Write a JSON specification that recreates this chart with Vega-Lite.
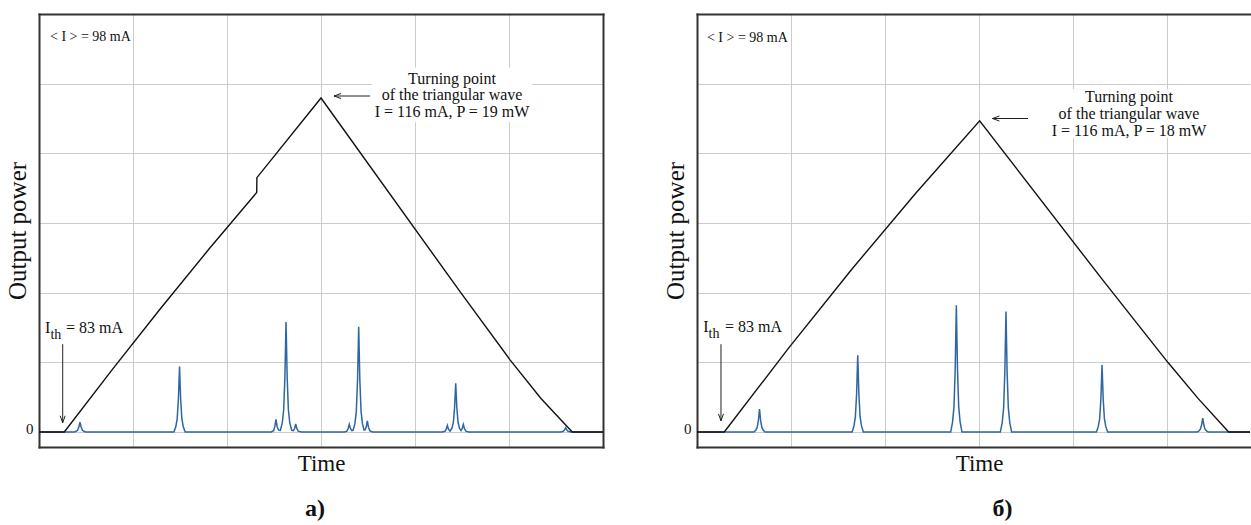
{
  "$schema": "https://vega.github.io/schema/vega-lite/v6.json",
  "background": "white",
  "padding": {"left": 5, "top": 14, "right": 0, "bottom": 0},
  "autosize": {"type": "pad"},
  "spacing": 57,
  "config": {
    "view": {"stroke": null},
    "font": "'Liberation Serif', 'Times New Roman', Times, serif",
    "axis": {
      "domainColor": "#333333", "domainWidth": 2, "domainCap": "square",
      "gridColor": "#cccccc", "gridWidth": 1,
      "ticks": false, "tickSize": 0,
      "labelFont": "'Liberation Serif', 'Times New Roman', Times, serif", "labelFontSize": 15, "labelColor": "#111111",
      "titleFont": "'Liberation Serif', 'Times New Roman', Times, serif", "titleFontSize": 23, "titleFontWeight": "normal", "titleColor": "#111111"
    },
    "text": {"font": "'Liberation Serif', 'Times New Roman', Times, serif"}
  },
  "datasets": {
    "blackA": [
      {"x": 0, "y": 0}, {"x": 0.269, "y": 0}, {"x": 0.781, "y": 0.9}, {"x": 1.293, "y": 1.773}, {"x": 1.804, "y": 2.619},
      {"x": 2.316, "y": 3.437}, {"x": 2.318, "y": 3.651}, {"x": 3.0, "y": 4.794},
      {"x": 4.479, "y": 2.014}, {"x": 5.011, "y": 1.036}, {"x": 5.34, "y": 0.481}, {"x": 5.673, "y": 0}, {"x": 6, "y": 0}
    ],
    "blackB": [
      {"x": 0, "y": 0}, {"x": 0.29, "y": 0}, {"x": 0.97, "y": 1.196}, {"x": 1.649, "y": 2.34}, {"x": 2.329, "y": 3.431}, {"x": 3.007, "y": 4.466},
      {"x": 4.309, "y": 2.194}, {"x": 5.011, "y": 0.997}, {"x": 5.33, "y": 0.483}, {"x": 5.656, "y": 0}, {"x": 5.883, "y": 0}
    ],
    "blueA": [
      {"x": 0, "y": 0},
      {"x": 0.376, "y": 0}, {"x": 0.396, "y": 0.011}, {"x": 0.411, "y": 0.028}, {"x": 0.424, "y": 0.07}, {"x": 0.436, "y": 0.14}, {"x": 0.448, "y": 0.07}, {"x": 0.461, "y": 0.028}, {"x": 0.476, "y": 0.011}, {"x": 0.496, "y": 0},
      {"x": 1.435, "y": 0}, {"x": 1.455, "y": 0.075}, {"x": 1.470, "y": 0.188}, {"x": 1.483, "y": 0.47}, {"x": 1.495, "y": 0.94}, {"x": 1.507, "y": 0.47}, {"x": 1.520, "y": 0.188}, {"x": 1.535, "y": 0.075}, {"x": 1.555, "y": 0},
      {"x": 2.47, "y": 0}, {"x": 2.496, "y": 0.02}, {"x": 2.509, "y": 0.08}, {"x": 2.521, "y": 0.18}, {"x": 2.533, "y": 0.08}, {"x": 2.548, "y": 0.03}, {"x": 2.568, "y": 0.025}, {"x": 2.588, "y": 0.13}, {"x": 2.603, "y": 0.32}, {"x": 2.616, "y": 0.79}, {"x": 2.628, "y": 1.58}, {"x": 2.640, "y": 0.79}, {"x": 2.653, "y": 0.32}, {"x": 2.668, "y": 0.13}, {"x": 2.688, "y": 0.025}, {"x": 2.706, "y": 0.02}, {"x": 2.719, "y": 0.05}, {"x": 2.731, "y": 0.115}, {"x": 2.743, "y": 0.05}, {"x": 2.758, "y": 0.012}, {"x": 2.79, "y": 0},
      {"x": 3.25, "y": 0}, {"x": 3.276, "y": 0.012}, {"x": 3.289, "y": 0.05}, {"x": 3.301, "y": 0.11}, {"x": 3.313, "y": 0.05}, {"x": 3.328, "y": 0.02}, {"x": 3.341, "y": 0.025}, {"x": 3.361, "y": 0.12}, {"x": 3.376, "y": 0.30}, {"x": 3.389, "y": 0.755}, {"x": 3.401, "y": 1.51}, {"x": 3.413, "y": 0.755}, {"x": 3.426, "y": 0.30}, {"x": 3.441, "y": 0.12}, {"x": 3.458, "y": 0.03}, {"x": 3.468, "y": 0.03}, {"x": 3.481, "y": 0.07}, {"x": 3.493, "y": 0.16}, {"x": 3.505, "y": 0.07}, {"x": 3.52, "y": 0.017}, {"x": 3.55, "y": 0},
      {"x": 4.29, "y": 0}, {"x": 4.319, "y": 0.01}, {"x": 4.332, "y": 0.04}, {"x": 4.344, "y": 0.094}, {"x": 4.356, "y": 0.04}, {"x": 4.373, "y": 0.012}, {"x": 4.393, "y": 0.056}, {"x": 4.408, "y": 0.14}, {"x": 4.421, "y": 0.35}, {"x": 4.433, "y": 0.70}, {"x": 4.445, "y": 0.35}, {"x": 4.458, "y": 0.14}, {"x": 4.473, "y": 0.056}, {"x": 4.49, "y": 0.02}, {"x": 4.502, "y": 0.05}, {"x": 4.514, "y": 0.11}, {"x": 4.526, "y": 0.05}, {"x": 4.541, "y": 0.012}, {"x": 4.57, "y": 0},
      {"x": 5.55, "y": 0}, {"x": 5.578, "y": 0.01}, {"x": 5.591, "y": 0.03}, {"x": 5.603, "y": 0.06}, {"x": 5.615, "y": 0.03}, {"x": 5.628, "y": 0.01}, {"x": 5.66, "y": 0},
      {"x": 6, "y": 0}
    ],
    "blueB": [
      {"x": 0, "y": 0},
      {"x": 0.605, "y": 0}, {"x": 0.625, "y": 0.026}, {"x": 0.640, "y": 0.066}, {"x": 0.653, "y": 0.165}, {"x": 0.665, "y": 0.33}, {"x": 0.677, "y": 0.165}, {"x": 0.690, "y": 0.066}, {"x": 0.705, "y": 0.026}, {"x": 0.725, "y": 0},
      {"x": 1.65, "y": 0}, {"x": 1.67, "y": 0.088}, {"x": 1.685, "y": 0.22}, {"x": 1.698, "y": 0.55}, {"x": 1.71, "y": 1.10}, {"x": 1.722, "y": 0.55}, {"x": 1.735, "y": 0.22}, {"x": 1.75, "y": 0.088}, {"x": 1.77, "y": 0},
      {"x": 2.699, "y": 0}, {"x": 2.719, "y": 0.146}, {"x": 2.734, "y": 0.364}, {"x": 2.747, "y": 0.91}, {"x": 2.759, "y": 1.82}, {"x": 2.771, "y": 0.91}, {"x": 2.784, "y": 0.364}, {"x": 2.799, "y": 0.146}, {"x": 2.819, "y": 0},
      {"x": 3.227, "y": 0}, {"x": 3.247, "y": 0.138}, {"x": 3.262, "y": 0.346}, {"x": 3.275, "y": 0.865}, {"x": 3.287, "y": 1.73}, {"x": 3.299, "y": 0.865}, {"x": 3.312, "y": 0.346}, {"x": 3.327, "y": 0.138}, {"x": 3.347, "y": 0},
      {"x": 4.249, "y": 0}, {"x": 4.269, "y": 0.077}, {"x": 4.284, "y": 0.192}, {"x": 4.297, "y": 0.48}, {"x": 4.309, "y": 0.96}, {"x": 4.321, "y": 0.48}, {"x": 4.334, "y": 0.192}, {"x": 4.349, "y": 0.077}, {"x": 4.369, "y": 0},
      {"x": 5.32, "y": 0}, {"x": 5.34, "y": 0.016}, {"x": 5.355, "y": 0.04}, {"x": 5.368, "y": 0.1}, {"x": 5.38, "y": 0.2}, {"x": 5.392, "y": 0.1}, {"x": 5.405, "y": 0.04}, {"x": 5.42, "y": 0.016}, {"x": 5.44, "y": 0},
      {"x": 5.883, "y": 0}
    ],
    "boxes": [
      {"panel": "a", "x": 3.543, "x2": 5.245, "y": 4.447, "y2": 5.233},
      {"panel": "b", "x": 3.734, "x2": 5.457, "y": 4.219, "y2": 4.919}
    ],
    "arrows": [
      {"panel": "a", "dir": "down", "x": 0.252, "y": 0.133, "x2": 0.252, "y2": 1.261},
      {"panel": "a", "dir": "left", "x": 3.138, "y": 4.823, "x2": 3.521, "y2": 4.823},
      {"panel": "b", "dir": "down", "x": 0.255, "y": 0.16, "x2": 0.255, "y2": 1.26},
      {"panel": "b", "dir": "left", "x": 3.143, "y": 4.5, "x2": 3.521, "y2": 4.5}
    ],
    "texts": [
      {"panel": "a", "kind": "mean", "x": 0.117, "y": 5.676, "text": "< I > = 98 mA"},
      {"panel": "a", "kind": "turn", "x": 4.394, "y": 5.071, "text": "Turning point"},
      {"panel": "a", "kind": "turn", "x": 4.394, "y": 4.833, "text": "of the triangular wave"},
      {"panel": "a", "kind": "turn", "x": 4.394, "y": 4.594, "text": "I = 116 mA, P = 19 mW"},
      {"panel": "a", "kind": "main", "x": 0.064, "y": 1.419, "text": "I"},
      {"panel": "a", "kind": "main", "x": 0.287, "y": 1.419, "text": "= 83 mA"},
      {"panel": "a", "kind": "sub", "x": 0.122, "y": 1.333, "text": "th"},
      {"panel": "b", "kind": "mean", "x": 0.106, "y": 5.66, "text": "< I > = 98 mA"},
      {"panel": "b", "kind": "turn", "x": 4.596, "y": 4.804, "text": "Turning point"},
      {"panel": "b", "kind": "turn", "x": 4.596, "y": 4.561, "text": "of the triangular wave"},
      {"panel": "b", "kind": "turn", "x": 4.596, "y": 4.319, "text": "I = 116 mA, P = 18 mW"},
      {"panel": "b", "kind": "main", "x": 0.067, "y": 1.434, "text": "I"},
      {"panel": "b", "kind": "main", "x": 0.298, "y": 1.434, "text": "= 83 mA"},
      {"panel": "b", "kind": "sub", "x": 0.123, "y": 1.348, "text": "th"}
    ]
  },
  "hconcat": [
    {
      "width": 564, "height": 433,
      "title": {"text": "а)", "orient": "bottom", "anchor": "middle", "frame": "group", "fontSize": 24, "fontWeight": "bold", "font": "'Liberation Serif', 'Times New Roman', Times, serif", "color": "#111111", "offset": 22, "dx": -6},
      "resolve": {"axis": {"x": "independent", "y": "independent"}},
      "layer": [
        {"data": {"name": "boxes"}, "transform": [{"filter": "datum.panel == 'a'"}],
         "mark": {"type": "rect", "fill": "white"},
         "encoding": {"x": {"field": "x", "type": "quantitative", "scale": {"domain": [0, 6], "nice": false, "zero": false}, "axis": null}, "x2": {"field": "x2"},
                      "y": {"field": "y", "type": "quantitative", "scale": {"domain": [-0.215, 6], "nice": false, "zero": false}, "axis": null}, "y2": {"field": "y2"}}},
        {"data": {"name": "blueA"},
         "mark": {"type": "line", "color": "#2e66a3", "strokeWidth": 1.5},
         "encoding": {"x": {"field": "x", "type": "quantitative", "scale": {"domain": [0, 6], "nice": false, "zero": false}, "axis": {"orient": "top", "grid": false, "labels": false, "title": null}},
                      "y": {"field": "y", "type": "quantitative", "scale": {"domain": [-0.215, 6], "nice": false, "zero": false}, "axis": {"orient": "right", "grid": false, "labels": false, "title": null}}}},
        {"data": {"name": "blackA"},
         "mark": {"type": "line", "color": "#111111", "strokeWidth": 1.4},
         "encoding": {"x": {"field": "x", "type": "quantitative", "scale": {"domain": [0, 6], "nice": false, "zero": false}, "axis": {"orient": "bottom", "values": [1, 2, 3, 4, 5], "grid": true, "labels": false, "title": "Time", "titleX": 282, "titlePadding": 5}},
                      "y": {"field": "y", "type": "quantitative", "scale": {"domain": [-0.215, 6], "nice": false, "zero": false}, "axis": {"orient": "left", "values": [0, 1, 2, 3, 4, 5], "grid": true, "labelExpr": "datum.value == 0 ? '0' : ''", "labelPadding": 6, "labelOffset": -4, "title": "Output power", "titleFontSize": 25, "titleX": -9, "titleAngle": 270, "titleBaseline": "bottom"}}}},
        {"data": {"name": "arrows"}, "transform": [{"filter": "datum.panel == 'a'"}],
         "mark": {"type": "rule", "color": "#222222", "strokeWidth": 1},
         "encoding": {"x": {"field": "x", "type": "quantitative", "axis": null}, "x2": {"field": "x2"}, "y": {"field": "y", "type": "quantitative", "axis": null}, "y2": {"field": "y2"}}},
        {"data": {"name": "arrows"}, "transform": [{"filter": "datum.panel == 'a' && datum.dir == 'down'"}],
         "mark": {"type": "point", "shape": "M-1.25,-3.5L0,0L1.25,-3.5", "size": 16, "filled": false, "stroke": "#222222", "strokeWidth": 1, "opacity": 1},
         "encoding": {"x": {"field": "x", "type": "quantitative", "axis": null}, "y": {"field": "y", "type": "quantitative", "axis": null}}},
        {"data": {"name": "arrows"}, "transform": [{"filter": "datum.panel == 'a' && datum.dir == 'left'"}],
         "mark": {"type": "point", "shape": "M3.5,-1.25L0,0L3.5,1.25", "size": 16, "filled": false, "stroke": "#222222", "strokeWidth": 1, "opacity": 1},
         "encoding": {"x": {"field": "x", "type": "quantitative", "axis": null}, "y": {"field": "y", "type": "quantitative", "axis": null}}},
        {"data": {"name": "texts"}, "transform": [{"filter": "datum.panel == 'a' && datum.kind == 'mean'"}],
         "mark": {"type": "text", "font": "'Liberation Serif', 'Times New Roman', Times, serif", "fontSize": 14, "align": "left", "baseline": "middle", "color": "#111111"},
         "encoding": {"x": {"field": "x", "type": "quantitative", "axis": null}, "y": {"field": "y", "type": "quantitative", "axis": null}, "text": {"field": "text"}}},
        {"data": {"name": "texts"}, "transform": [{"filter": "datum.panel == 'a' && datum.kind == 'turn'"}],
         "mark": {"type": "text", "font": "'Liberation Serif', 'Times New Roman', Times, serif", "fontSize": 16, "align": "center", "baseline": "middle", "color": "#111111"},
         "encoding": {"x": {"field": "x", "type": "quantitative", "axis": null}, "y": {"field": "y", "type": "quantitative", "axis": null}, "text": {"field": "text"}}},
        {"data": {"name": "texts"}, "transform": [{"filter": "datum.panel == 'a' && datum.kind == 'main'"}],
         "mark": {"type": "text", "font": "'Liberation Serif', 'Times New Roman', Times, serif", "fontSize": 16, "align": "left", "baseline": "alphabetic", "color": "#111111"},
         "encoding": {"x": {"field": "x", "type": "quantitative", "axis": null}, "y": {"field": "y", "type": "quantitative", "axis": null}, "text": {"field": "text"}}},
        {"data": {"name": "texts"}, "transform": [{"filter": "datum.panel == 'a' && datum.kind == 'sub'"}],
         "mark": {"type": "text", "font": "'Liberation Serif', 'Times New Roman', Times, serif", "fontSize": 14, "align": "left", "baseline": "alphabetic", "color": "#111111"},
         "encoding": {"x": {"field": "x", "type": "quantitative", "axis": null}, "y": {"field": "y", "type": "quantitative", "axis": null}, "text": {"field": "text"}}}
      ]
    },
    {
      "width": 553, "height": 433,
      "title": {"text": "б)", "orient": "bottom", "anchor": "middle", "frame": "group", "fontSize": 24, "fontWeight": "bold", "font": "'Liberation Serif', 'Times New Roman', Times, serif", "color": "#111111", "offset": 22, "dx": 29},
      "resolve": {"axis": {"x": "independent", "y": "independent"}},
      "layer": [
        {"data": {"name": "boxes"}, "transform": [{"filter": "datum.panel == 'b'"}],
         "mark": {"type": "rect", "fill": "white"},
         "encoding": {"x": {"field": "x", "type": "quantitative", "scale": {"domain": [0, 5.883], "nice": false, "zero": false}, "axis": null}, "x2": {"field": "x2"},
                      "y": {"field": "y", "type": "quantitative", "scale": {"domain": [-0.215, 6], "nice": false, "zero": false}, "axis": null}, "y2": {"field": "y2"}}},
        {"data": {"name": "blueB"},
         "mark": {"type": "line", "color": "#2e66a3", "strokeWidth": 1.5},
         "encoding": {"x": {"field": "x", "type": "quantitative", "scale": {"domain": [0, 5.883], "nice": false, "zero": false}, "axis": {"orient": "top", "grid": false, "labels": false, "title": null}},
                      "y": {"field": "y", "type": "quantitative", "scale": {"domain": [-0.215, 6], "nice": false, "zero": false}, "axis": null}}},
        {"data": {"name": "blackB"},
         "mark": {"type": "line", "color": "#111111", "strokeWidth": 1.4},
         "encoding": {"x": {"field": "x", "type": "quantitative", "scale": {"domain": [0, 5.883], "nice": false, "zero": false}, "axis": {"orient": "bottom", "values": [1, 2, 3, 4, 5], "grid": true, "labels": false, "title": "Time", "titleX": 282, "titlePadding": 5}},
                      "y": {"field": "y", "type": "quantitative", "scale": {"domain": [-0.215, 6], "nice": false, "zero": false}, "axis": {"orient": "left", "values": [0, 1, 2, 3, 4, 5], "grid": true, "labelExpr": "datum.value == 0 ? '0' : ''", "labelPadding": 6, "labelOffset": -4, "title": "Output power", "titleFontSize": 25, "titleX": -9, "titleAngle": 270, "titleBaseline": "bottom"}}}},
        {"data": {"name": "arrows"}, "transform": [{"filter": "datum.panel == 'b'"}],
         "mark": {"type": "rule", "color": "#222222", "strokeWidth": 1},
         "encoding": {"x": {"field": "x", "type": "quantitative", "axis": null}, "x2": {"field": "x2"}, "y": {"field": "y", "type": "quantitative", "axis": null}, "y2": {"field": "y2"}}},
        {"data": {"name": "arrows"}, "transform": [{"filter": "datum.panel == 'b' && datum.dir == 'down'"}],
         "mark": {"type": "point", "shape": "M-1.25,-3.5L0,0L1.25,-3.5", "size": 16, "filled": false, "stroke": "#222222", "strokeWidth": 1, "opacity": 1},
         "encoding": {"x": {"field": "x", "type": "quantitative", "axis": null}, "y": {"field": "y", "type": "quantitative", "axis": null}}},
        {"data": {"name": "arrows"}, "transform": [{"filter": "datum.panel == 'b' && datum.dir == 'left'"}],
         "mark": {"type": "point", "shape": "M3.5,-1.25L0,0L3.5,1.25", "size": 16, "filled": false, "stroke": "#222222", "strokeWidth": 1, "opacity": 1},
         "encoding": {"x": {"field": "x", "type": "quantitative", "axis": null}, "y": {"field": "y", "type": "quantitative", "axis": null}}},
        {"data": {"name": "texts"}, "transform": [{"filter": "datum.panel == 'b' && datum.kind == 'mean'"}],
         "mark": {"type": "text", "font": "'Liberation Serif', 'Times New Roman', Times, serif", "fontSize": 14, "align": "left", "baseline": "middle", "color": "#111111"},
         "encoding": {"x": {"field": "x", "type": "quantitative", "axis": null}, "y": {"field": "y", "type": "quantitative", "axis": null}, "text": {"field": "text"}}},
        {"data": {"name": "texts"}, "transform": [{"filter": "datum.panel == 'b' && datum.kind == 'turn'"}],
         "mark": {"type": "text", "font": "'Liberation Serif', 'Times New Roman', Times, serif", "fontSize": 16, "align": "center", "baseline": "middle", "color": "#111111"},
         "encoding": {"x": {"field": "x", "type": "quantitative", "axis": null}, "y": {"field": "y", "type": "quantitative", "axis": null}, "text": {"field": "text"}}},
        {"data": {"name": "texts"}, "transform": [{"filter": "datum.panel == 'b' && datum.kind == 'main'"}],
         "mark": {"type": "text", "font": "'Liberation Serif', 'Times New Roman', Times, serif", "fontSize": 16, "align": "left", "baseline": "alphabetic", "color": "#111111"},
         "encoding": {"x": {"field": "x", "type": "quantitative", "axis": null}, "y": {"field": "y", "type": "quantitative", "axis": null}, "text": {"field": "text"}}},
        {"data": {"name": "texts"}, "transform": [{"filter": "datum.panel == 'b' && datum.kind == 'sub'"}],
         "mark": {"type": "text", "font": "'Liberation Serif', 'Times New Roman', Times, serif", "fontSize": 14, "align": "left", "baseline": "alphabetic", "color": "#111111"},
         "encoding": {"x": {"field": "x", "type": "quantitative", "axis": null}, "y": {"field": "y", "type": "quantitative", "axis": null}, "text": {"field": "text"}}}
      ]
    }
  ]
}
